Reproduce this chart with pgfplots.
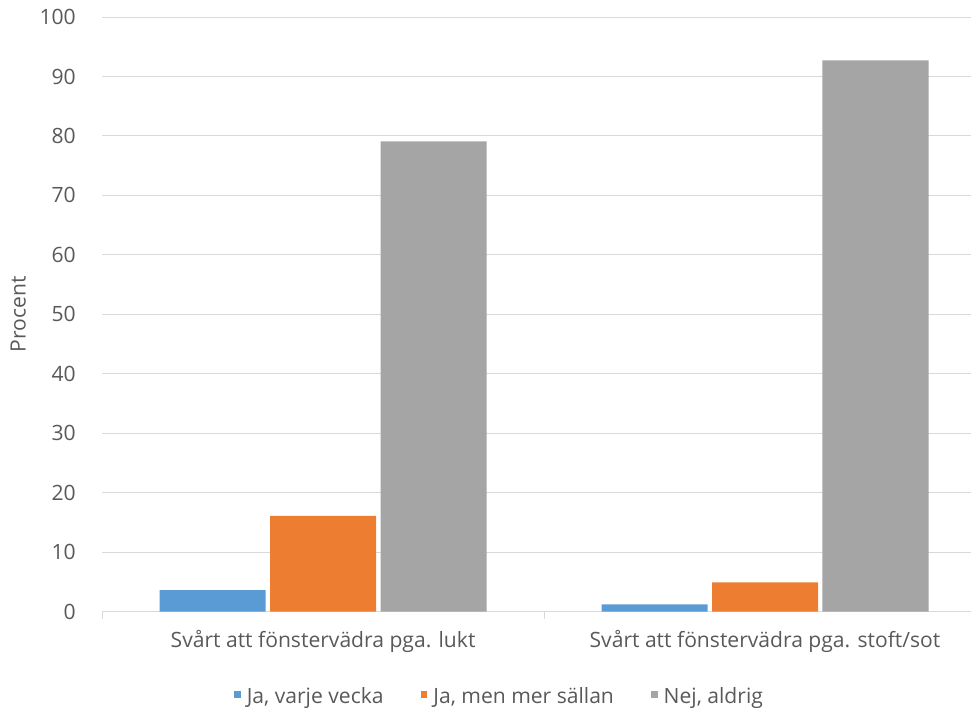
\documentclass[border=0pt]{standalone}
\usepackage{fontspec}
\setmainfont{Open Sans}
\usepackage{pgfplots}
\pgfplotsset{compat=1.18}
\usetikzlibrary{calc}
\definecolor{cblue}{RGB}{91,155,213}
\definecolor{corange}{RGB}{237,125,49}
\definecolor{cgray}{RGB}{165,165,165}
\definecolor{ctext}{RGB}{89,89,89}
\definecolor{cgrid}{RGB}{217,217,217}
\newcommand{\cf}{\fontsize{15.8bp}{18bp}\selectfont}
\begin{document}
\begin{tikzpicture}
\begin{axis}[
  scale only axis,
  width=662.25bp, height=445.5bp,
  ymin=0, ymax=100, ytick={0,10,...,100},
  xmin=-0.5, xmax=1.5,
  xtick={0,1},
  xticklabels={Svårt att fönstervädra pga. lukt, Svårt att fönstervädra pga. stoft/sot},
  minor xtick={-0.5,0.5,1.5},
  ybar, bar width=0.24,
  axis x line*=bottom, axis y line*=left,
  x axis line style={draw=cgrid, line width=0.75bp, -},
  y axis line style={draw=none},
  ymajorgrids, grid style={draw=cgrid, line width=0.75bp},
  major x tick style={draw=none},
  minor x tick style={draw=cgrid, line width=0.75bp},
  minor tick length=5.5bp,
  tick align=outside,
  ytick style={draw=none},
  yticklabel style={font=\cf, text=ctext, xshift=-12bp},
  xticklabel style={font=\cf, text=ctext, yshift=-6.5bp},
  /pgf/number format/assume math mode=true,
  ylabel={Procent},
  every axis y label/.style={at={(rel axis cs:0,0.5)}, xshift=-62.8bp, rotate=90, anchor=center, font=\cf, text=ctext},
  legend style={at={(0.5,0)}, anchor=north, xshift=-33bp, yshift=-53bp, draw=none, fill=none,
    font=\cf, text=ctext,
    legend columns=3,
    /tikz/every odd column/.append style={column sep=2.5bp},
    /tikz/every even column/.append style={column sep=26bp}},
  legend image code/.code={\fill[#1] (0bp,-0.5bp) rectangle (4.8bp,4.3bp);},
]
\addplot[fill=cblue, draw=none, bar shift=-0.25] coordinates {(0,3.6) (1,1.2)};
\addplot[fill=corange, draw=none, bar shift=0] coordinates {(0,16.1) (1,4.9)};
\addplot[fill=cgray, draw=none, bar shift=0.25] coordinates {(0,79.1) (1,92.7)};
\legend{{Ja, varje vecka}, {Ja, men mer sällan}, {Nej, aldrig}}
\end{axis}
\pgfresetboundingbox
\path ($(current axis.south west)+(-76.5bp,-72bp)$) rectangle ($(current axis.north east)+(-11.25bp,12.75bp)$);
\end{tikzpicture}
\end{document}
